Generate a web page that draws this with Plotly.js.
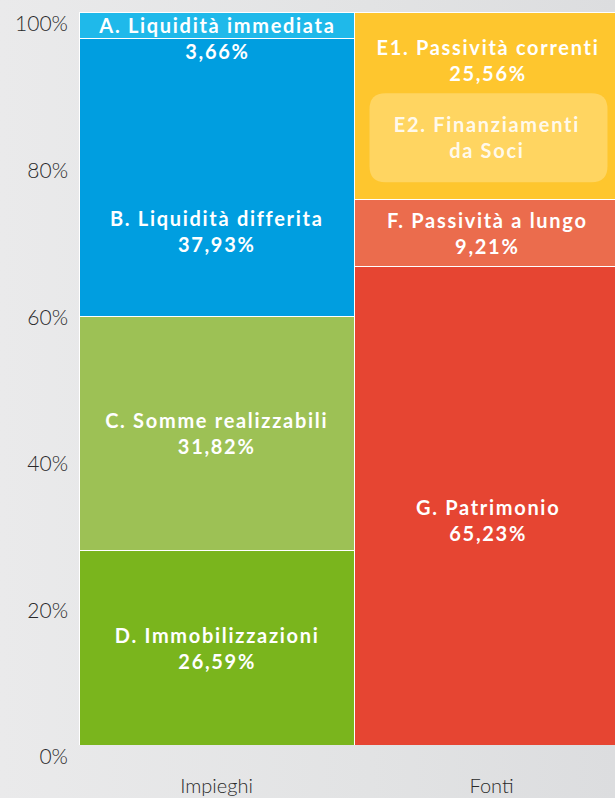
<!DOCTYPE html>
<html><head><meta charset="utf-8">
<script src="https://cdn.plot.ly/plotly-3.0.1.min.js"></script>
<style>
html,body{margin:0;padding:0;background:linear-gradient(90deg,#eaeaeb 0%,#e2e3e4 60%,#dcdddf 100%);}
#chart{width:615px;height:798px;}
#chart .annotation-text{letter-spacing:1.7px;}
</style></head>
<body><div id="chart"></div>
<script>
// ---- data ----
const categories = ['Impieghi', 'Fonti'];
const impieghiNames = ['D. Immobilizzazioni', 'C. Somme realizzabili', 'B. Liquidità differita', 'A. Liquidità immediata'];
const impieghiValues = [26.59, 31.82, 37.93, 3.66];
const fontiNames = ['G. Patrimonio', 'F. Passività a lungo', 'E1. Passività correnti'];
const fontiValues = [65.23, 9.21, 25.56];
const subItemLabel = 'E2. Finanziamenti<br>da Soci';
const tickValues = [0, 20, 40, 60, 80, 100];
const tickLabels = ['0%', '20%', '40%', '60%', '80%', '100%'];

// ---- style ----
const impieghiColors = ['#7ab51d', '#9dc155', '#009ee0', '#1fb9ea'];
const fontiColors = ['#e64532', '#eb6c4d', '#fec62e'];
const impieghiShift = [0, 0, -53, -13];
const fontiShift = [-14, 0, 46];
const W = 615, H = 798, M = {l: 79, r: 0, t: 12, b: 53};
const plotW = W - M.l - M.r, plotH = H - M.t - M.b;
const barPx = 275;
const xRange = [-0.5, -0.5 + plotW / barPx];
const labelFont = {family: 'Lato, sans-serif', size: 20, color: '#ffffff', weight: 700};

const fmt = v => v.toFixed(2).replace('.', ',') + '%';

const traces = [];
const annotations = [];
function addStack(cat, names, values, colors, shifts, xs) {
  let base = 0;
  values.forEach((v, i) => {
    traces.push({
      type: 'bar', x: [cat], y: [v], name: names[i],
      marker: {color: colors[i], line: {color: '#ffffff', width: 1}},
      hoverinfo: 'skip'
    });
    annotations.push({
      x: cat, y: base + v / 2, xref: 'x', yref: 'y',
      text: names[i] + '<br>' + fmt(v), showarrow: false,
      font: labelFont, yshift: shifts[i], xshift: xs, align: 'center'
    });
    base += v;
  });
}
addStack(categories[0], impieghiNames, impieghiValues, impieghiColors, impieghiShift, 0);
addStack(categories[1], fontiNames, fontiValues, fontiColors, fontiShift, -4);

// E2 sub-item: rounded highlight box inside the E1 segment
const e1Base = fontiValues[0] + fontiValues[1];
const e1Mid = e1Base + fontiValues[2] / 2;
const pxX = plotW / (xRange[1] - xRange[0]), pxY = plotH / 100;
const boxCy = e1Mid - 32 / pxY, boxHalfH = 44.5 / pxY;
const x0 = 1 + (-122) / pxX, x1 = 1 + 116 / pxX;
const y0 = boxCy - boxHalfH, y1 = boxCy + boxHalfH;
const rx = 16 / pxX, ry = 16 / pxY;
const path = `M ${x0 + rx} ${y0} L ${x1 - rx} ${y0} Q ${x1} ${y0} ${x1} ${y0 + ry} L ${x1} ${y1 - ry} Q ${x1} ${y1} ${x1 - rx} ${y1} L ${x0 + rx} ${y1} Q ${x0} ${y1} ${x0} ${y1 - ry} L ${x0} ${y0 + ry} Q ${x0} ${y0} ${x0 + rx} ${y0} Z`;
const shapes = [{type: 'path', path: path, xref: 'x', yref: 'y', fillcolor: 'rgba(255,226,140,0.55)', line: {width: 0}, layer: 'above'}];
annotations.push({
  x: categories[1], y: boxCy, xref: 'x', yref: 'y', text: subItemLabel, showarrow: false,
  font: {family: 'Lato, sans-serif', size: 20, color: 'rgba(255,255,255,0.9)', weight: 700},
  xshift: -5, yshift: 1, align: 'center'
});

const layout = {
  width: W, height: H, margin: M,
  paper_bgcolor: 'rgba(0,0,0,0)', plot_bgcolor: 'rgba(0,0,0,0)',
  barmode: 'stack', bargap: 0, showlegend: false,
  xaxis: {range: xRange, showgrid: false, zeroline: false, showline: false, ticks: '',
          tickfont: {family: 'Lato, sans-serif', size: 20, color: '#2a2a2a', weight: 300},
          ticklabelstandoff: 27, fixedrange: true},
  yaxis: {range: [0, 100], showgrid: false, zeroline: false, showline: false, ticks: '',
          tickvals: tickValues, ticktext: tickLabels, ticklabelshift: 12, ticklabelstandoff: 10,
          tickfont: {family: 'Lato, sans-serif', size: 21, color: '#2a2a2a', weight: 300}, fixedrange: true},
  shapes: shapes, annotations: annotations
};
Plotly.newPlot('chart', traces, layout, {displayModeBar: false, staticPlot: true});
</script>
</body></html>
